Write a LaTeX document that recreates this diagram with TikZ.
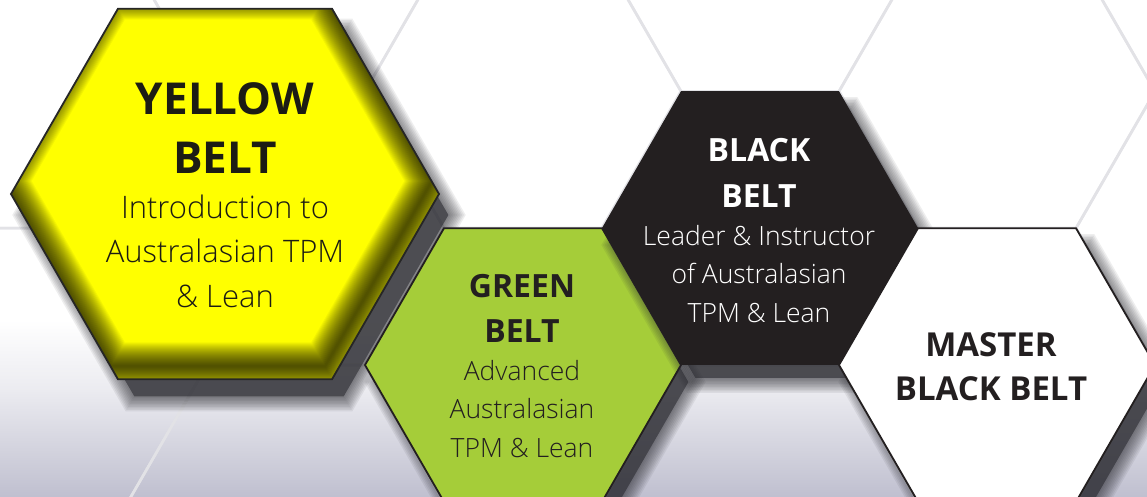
\documentclass[tikz,border=0pt]{standalone}
\usepackage{fontspec}
\setmainfont{Open Sans}
\newfontfamily\lightfont{Open Sans Light}

\definecolor{beltyellow}{HTML}{FFFF00}
\definecolor{beltgreen}{HTML}{A5CD39}
\definecolor{beltblack}{HTML}{231F20}
\definecolor{inkdark}{HTML}{1C1C14}
\definecolor{gridgray}{HTML}{E2E2E6}
\definecolor{floormid}{HTML}{EBEBF0}
\definecolor{floorlow}{HTML}{BFBFCF}
\definecolor{shadowink}{HTML}{2A2A30}

% flat-topped hexagon: centre x, centre y, side length
\newcommand{\hexpath}[3]{({#1},{#2}) +(0:#3) -- +(60:#3) -- +(120:#3) -- +(180:#3) -- +(240:#3) -- +(300:#3) -- cycle}

% soft drop shadow: centre x, centre y, side, x offset, y offset
% an opaque-ish core plus translucent rings grown around the offset cell
\newcommand{\hexdrop}[5]{%
  \fill[shadowink, opacity=0.55] \hexpath{#1+#4}{#2+#5}{#3-1.1547*4};
  \foreach \r in {-4,-2.5,-1,0.5,2,3.5,5,6.5,8,9.5,11}{
    \fill[shadowfill] \hexpath{#1+#4}{#2+#5}{#3+1.1547*\r};
  }}

\tikzset{
  shadowfill/.style={shadowink, opacity=0.08},
  gridline/.style={draw=gridgray, line width=2.6pt},
  hexedge/.style={draw=beltblack, line width=1.8pt, line join=miter},
  txt/.style={anchor=base, inner sep=0pt},
  ytitle/.style={txt, text=inkdark, font=\fontsize{44}{50}\selectfont\bfseries},
  ysub/.style={txt, text=inkdark, font=\fontsize{31}{36}\selectfont\lightfont},
  stitle/.style={txt, font=\fontsize{32}{38}\selectfont\bfseries},
  ssub/.style={txt, font=\fontsize{26.5}{30}\selectfont\lightfont},
}

\begin{document}
\begin{tikzpicture}[x=1pt,y=-1pt]
\useasboundingbox (0,0) rectangle (1147,497);
\clip (0,0) rectangle (1147,497);

% backdrop: white fading into a grey-lilac floor
\fill[white] (0,0) rectangle (1147,497);
\shade[top color=white, bottom color=floormid] (0,320) rectangle (1147,391);
\shade[top color=floormid, bottom color=floorlow] (0,390) rectangle (1147,498);

% honeycomb grid behind the cells
\foreach \k in {-3,...,3}{
  \foreach \j in {-3,...,3}{
    \draw[gridline] \hexpath{523+237*\k}{365-136.83*\k+273.66*\j}{158};
  }
}

% yellow cell with a soft inner bevel, darker towards the lower right
\hexdrop{225}{194}{214}{14}{21}
\fill[beltyellow] \hexpath{225}{194}{214};
\begin{scope}
  \clip \hexpath{225}{194}{214};
  \foreach \w in {2,4,...,48}
    \draw[black, opacity=0.042, line width=\w pt, line join=miter] \hexpath{218}{181}{214};
\end{scope}
\draw[hexedge, draw=black!85] \hexpath{225}{194}{214};

% green, black and master cells
\hexdrop{523}{365}{158}{12}{17}
\path[fill=beltgreen, hexedge] \hexpath{523}{365}{158};
\hexdrop{760}{228}{158}{12}{17}
\path[fill=beltblack] \hexpath{760}{228}{158};
\hexdrop{997}{365}{158}{12}{17}
\path[fill=white, hexedge] \hexpath{997}{365}{158};

% yellow belt
\node[ytitle] (y1) at (225,115) {YELLOW};
\node[ytitle] (y2) at (225,173) {BELT};
\node[ysub] (y3) at (225,218) {Introduction to};
\node[ysub] (y4) at (225,262) {Australasian TPM};
\node[ysub] (y5) at (225,307) {\& Lean};

% green belt
\node[stitle, text=beltblack] (g1) at (522,297) {GREEN};
\node[stitle, text=beltblack] (g2) at (522,342) {BELT};
\node[ssub, text=beltblack] (g3) at (522,380) {Advanced};
\node[ssub, text=beltblack] (g4) at (522,418) {Australasian};
\node[ssub, text=beltblack] (g5) at (522,457) {TPM \& Lean};

% black belt
\node[stitle, text=white] (b1) at (759,162) {BLACK};
\node[stitle, text=white] (b2) at (759,207) {BELT};
\node[ssub, text=white] (b3) at (759,245) {Leader \& Instructor};
\node[ssub, text=white] (b4) at (759,283) {of Australasian};
\node[ssub, text=white] (b5) at (759,322) {TPM \& Lean};

% master black belt
\node[stitle, text=beltblack, font=\fontsize{33}{40}\selectfont\bfseries] (m1) at (991,356) {MASTER};
\node[stitle, text=beltblack, font=\fontsize{33}{40}\selectfont\bfseries] (m2) at (991,400) {BLACK BELT};
\end{tikzpicture}
\end{document}
